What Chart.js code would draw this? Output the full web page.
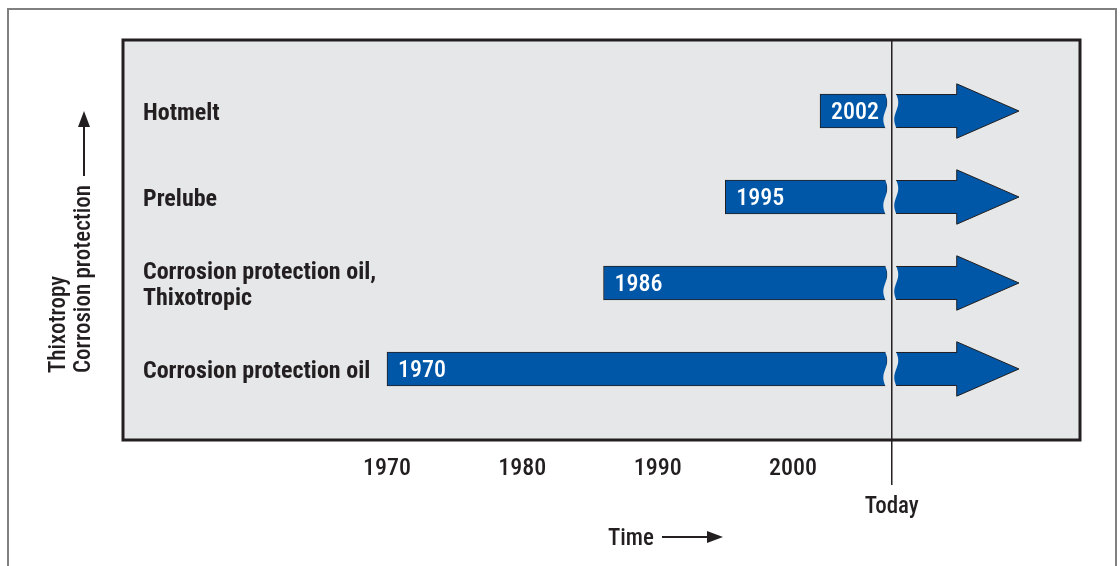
<!DOCTYPE html>
<html>
<head>
<meta charset="utf-8">
<script src="https://cdn.jsdelivr.net/npm/chart.js@4/dist/chart.umd.min.js"></script>
<style>
  html, body { margin: 0; padding: 0; background: #ffffff; }
  #wrap { width: 1120px; height: 566px; }
</style>
</head>
<body>
<div id="wrap"><canvas id="c" width="1120" height="566"></canvas></div>
<script>
// Product introductions along the time axis
const categories = ['Hotmelt', 'Prelube', ['Corrosion protection oil,', 'Thixotropic'], 'Corrosion protection oil'];
const introYears = [2002, 1995, 1986, 1970];
const tickYears = [1970, 1980, 1990, 2000];
const todayYear = 2007.3;
const todayLabel = 'Today';
const xTitle = 'Time';
const yTitleLines = ['Thixotropy', 'Corrosion protection'];

// Extent of the outlook arrows beyond today (in years)
const breakHalf = 0.33;
const arrowHeadYear = 2012.1;
const arrowTipYear = 2016.7;

const FONT = '"Roboto Condensed", "Open Sans Condensed", "Liberation Sans", sans-serif';
const INK = '#231f20';
const BLUE = '#0057a8';
const PANEL = '#e6e7e8';

function wave(t) { return 2 * Math.sin(2 * Math.PI * t); }

const decor = {
  id: 'decor',
  beforeDraw(chart) {
    const { ctx, chartArea: a } = chart;
    ctx.save();
    ctx.strokeStyle = '#808080';
    ctx.lineWidth = 2;
    ctx.beginPath();
    ctx.moveTo(8, 580); ctx.lineTo(8, 9); ctx.lineTo(1116, 9); ctx.lineTo(1116, 580);
    ctx.stroke();
    ctx.fillStyle = PANEL;
    ctx.fillRect(a.left, a.top, a.right - a.left, a.bottom - a.top);
    ctx.restore();
  },
  afterDatasetsDraw(chart) {
    const { ctx, chartArea: a, scales: { x } } = chart;
    const meta = chart.getDatasetMeta(0);
    const xToday = x.getPixelForValue(todayYear);
    const xCut = x.getPixelForValue(todayYear - breakHalf);
    const xStart = x.getPixelForValue(todayYear + breakHalf);
    const xHead = x.getPixelForValue(arrowHeadYear);
    const xTip = x.getPixelForValue(arrowTipYear);
    ctx.save();
    meta.data.forEach((bar, i) => {
      const half = bar.height / 2;
      const top = bar.y - half, bot = bar.y + half;
      const steps = 20;
      // wavy break on the bar end
      ctx.fillStyle = PANEL;
      ctx.beginPath();
      ctx.moveTo(xCut + 4, top - 2);
      for (let s = 0; s <= steps; s++) {
        const t = s / steps;
        ctx.lineTo(xCut - 2 + wave(t), top + t * (bot - top));
      }
      ctx.lineTo(xCut + 4, bot + 2);
      ctx.closePath();
      ctx.fill();

      // outlook arrow
      const headHalf = half * 1.6;
      ctx.beginPath();
      ctx.moveTo(xStart + wave(0), top);
      ctx.lineTo(xHead, top);
      ctx.lineTo(xHead, bar.y - headHalf);
      ctx.lineTo(xTip, bar.y);
      ctx.lineTo(xHead, bar.y + headHalf);
      ctx.lineTo(xHead, bot);
      ctx.lineTo(xStart + wave(1), bot);
      for (let s = steps; s >= 0; s--) {
        const t = s / steps;
        ctx.lineTo(xStart + wave(t), top + t * (bot - top));
      }
      ctx.closePath();
      ctx.fillStyle = BLUE;
      ctx.fill();
      ctx.beginPath();
      ctx.moveTo(xStart, top + 0.5);
      ctx.lineTo(xHead, top + 0.5);
      ctx.lineTo(xHead, bar.y - headHalf);
      ctx.lineTo(xTip, bar.y);
      ctx.lineTo(xHead, bar.y + headHalf);
      ctx.lineTo(xHead, bot - 0.5);
      ctx.lineTo(xStart, bot - 0.5);
      ctx.strokeStyle = INK;
      ctx.lineWidth = 1;
      ctx.stroke();

      // introduction year inside the bar
      ctx.fillStyle = '#ffffff';
      ctx.font = '500 24px ' + FONT;
      ctx.textAlign = 'left';
      ctx.textBaseline = 'middle';
      ctx.fillText(String(introYears[i]), x.getPixelForValue(introYears[i]) + 11, bar.y + 2);
    });

    // panel frame
    ctx.strokeStyle = INK;
    ctx.lineWidth = 3;
    ctx.strokeRect(a.left, a.top, a.right - a.left, a.bottom - a.top);

    // today marker
    ctx.lineWidth = 1.5;
    ctx.beginPath();
    ctx.moveTo(xToday, a.top);
    ctx.lineTo(xToday, 485);
    ctx.stroke();
    ctx.fillStyle = INK;
    ctx.font = '500 23px ' + FONT;
    ctx.textAlign = 'center';
    ctx.textBaseline = 'middle';
    ctx.fillText(todayLabel, xToday, 507);

    // axis titles with arrows
    ctx.textAlign = 'left';
    ctx.fillText(xTitle, 608, 539);
    ctx.lineWidth = 2;
    ctx.beginPath();
    ctx.moveTo(662, 537); ctx.lineTo(712, 537); ctx.stroke();
    ctx.beginPath();
    ctx.moveTo(723, 537); ctx.lineTo(707, 531); ctx.lineTo(707, 543); ctx.closePath(); ctx.fill();

    ctx.save();
    ctx.translate(0, 373);
    ctx.rotate(-Math.PI / 2);
    ctx.fillText(yTitleLines[0], 0, 59);
    ctx.fillText(yTitleLines[1], 0, 84);
    ctx.restore();
    ctx.beginPath();
    ctx.moveTo(84, 176); ctx.lineTo(84, 124); ctx.stroke();
    ctx.beginPath();
    ctx.moveTo(84, 111); ctx.lineTo(78, 127); ctx.lineTo(90, 127); ctx.closePath(); ctx.fill();
    ctx.restore();
  }
};

new Chart(document.getElementById('c'), {
  type: 'bar',
  data: {
    datasets: [{
      data: introYears.map((start, i) => ({ y: i, x: [start, todayYear - breakHalf] })),
      backgroundColor: BLUE,
      borderColor: INK,
      borderWidth: 1,
      borderSkipped: false,
      barThickness: 34
    }]
  },
  options: {
    indexAxis: 'y',
    responsive: false,
    animation: false,
    devicePixelRatio: 1,
    layout: { padding: { left: 123, right: 40, top: 40, bottom: 66 } },
    plugins: { legend: { display: false }, tooltip: { enabled: false } },
    scales: {
      x: {
        type: 'linear',
        min: 1950.49,
        max: 2021.21,
        afterBuildTicks: s => { s.ticks = tickYears.map(v => ({ value: v })); },
        afterFit: s => { s.height = 60; },
        grid: { display: false, drawTicks: false },
        border: { display: false },
        ticks: {
          autoSkip: false,
          maxRotation: 0,
          padding: 15,
          color: INK,
          font: { family: FONT, size: 24, weight: '500' },
          callback: v => String(v)
        }
      },
      y: {
        type: 'linear',
        reverse: true,
        offset: false,
        min: -0.826,
        max: 3.826,
        afterBuildTicks: s => { s.ticks = categories.map((_, i) => ({ value: i })); },
        afterFit: s => { s.width = 0; },
        grid: { display: false, drawTicks: false },
        border: { display: false },
        ticks: {
          autoSkip: false,
          mirror: true,
          padding: 20,
          labelOffset: 3,
          color: INK,
          font: { family: FONT, size: 24, weight: 'bold', lineHeight: 1.05 },
          callback: (v) => categories[v]
        }
      }
    }
  },
  plugins: [decor]
});
</script>
</body>
</html>
